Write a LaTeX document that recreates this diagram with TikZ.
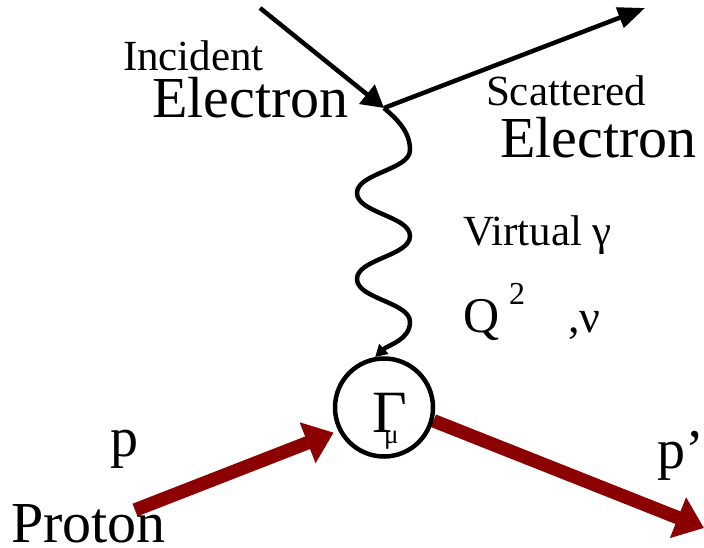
\documentclass[tikz,border=0pt]{standalone}
\usepackage{fontspec}
\setmainfont{Liberation Serif}
\usetikzlibrary{arrows.meta,backgrounds}
\definecolor{protonred}{RGB}{139,0,0}
\newcommand{\fsz}[1]{\fontsize{#1}{#1}\selectfont}
\tikzset{
  lbl/.style={anchor=base west, inner sep=0pt, outer sep=0pt, text=black},
  electron/.style={line width=4.5pt, draw=black},
  photon/.style={line width=4.5pt, draw=black, -{Triangle[length=12pt,width=13pt]}},
  proton/.style={line width=13.5pt, draw=protonred, -{Triangle[length=28pt,width=42pt]}},
  vertexc/.style={circle, draw=black, line width=4.5pt, minimum size=98pt, inner sep=0pt}
}
\begin{document}
\begin{tikzpicture}[x=1pt,y=-1pt]
\useasboundingbox (0,0) rectangle (704,547);
% vertex blob
\node[vertexc] (G) at (384,407.5) {};
\node[lbl] (gam) at (372,432) {\fsz{60}Γ};
\node[lbl] (mu) at (384,443) {\fsz{27}μ};
% electron vertex
\coordinate (v) at (384,108);
\coordinate (ein) at (260,8);
\coordinate (eout) at (645,8);
\draw[electron, -{Triangle[length=22pt,width=24pt]}] (ein) -- (v);
\draw[electron, -{Triangle[length=27pt,width=21pt]}] (v) -- (eout);
% virtual photon
\draw[photon] (v) .. controls (398,120) and (410,132) .. (410,150)
  .. controls (410,170) and (357,173) .. (357,193)
  .. controls (357,213) and (410,216) .. (410,236)
  .. controls (410,256) and (357,259) .. (357,279)
  .. controls (357,299) and (410,302) .. (410,322)
  .. controls (410,340) and (388,345) .. (G.100);
% protons
\coordinate (pin) at (135,510);
\coordinate (pout) at (704,528);
\begin{scope}[on background layer]
\draw[proton, shorten >=5pt] (pin) -- (G.207);
\draw[proton] (G.-15) -- (pout);
\end{scope}
% labels
\node[lbl] (inc) at (123,70) {\fsz{43}Incident};
\node[lbl] (el1) at (152,117) {\fsz{58}Electron};
\node[lbl] (sca) at (486,105) {\fsz{43}Scattered};
\node[lbl] (el2) at (500,157) {\fsz{58}Electron};
\node[lbl] (vir) at (463,245) {\fsz{43}Virtual γ};
\node[lbl] (q) at (463,332) {\fsz{50}Q};
\node[lbl] (two) at (509,304) {\fsz{32}2};
\node[lbl] (nu) at (568,332) {\fsz{46},ν};
\node[lbl] (p) at (110,456) {\fsz{56}p};
\node[lbl] (pro) at (11,542) {\fsz{58}Proton};
\node[lbl] (pp) at (657,468) {\fsz{56}p’};
\end{tikzpicture}
\end{document}
